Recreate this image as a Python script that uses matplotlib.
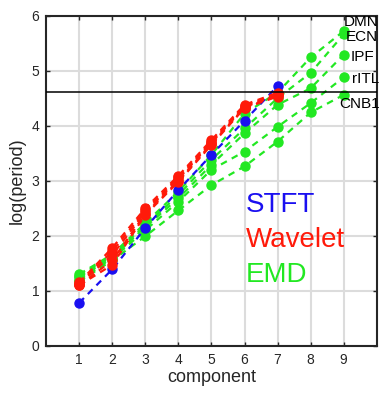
import matplotlib
matplotlib.use("Agg")
import matplotlib.pyplot as plt
import numpy as np

plt.rcParams['font.family'] = ['Liberation Sans', 'DejaVu Sans']

# ---- data ----
x_short = [1, 2, 3, 4, 5, 6, 7]
x_long = [1, 2, 3, 4, 5, 6, 7, 8, 9]

stft = [0.78, 1.39, 2.14, 2.83, 3.47, 4.09, 4.72]

wavelet_1 = [1.15, 1.78, 2.50, 3.09, 3.74, 4.38, 4.60]
wavelet_2 = [1.13, 1.72, 2.46, 3.06, 3.71, 4.36, 4.58]
wavelet_3 = [1.12, 1.65, 2.43, 3.03, 3.69, 4.34, 4.56]
wavelet_4 = [1.10, 1.55, 2.40, 3.00, 3.67, 4.33, 4.55]
wavelet_5 = [1.10, 1.47, 2.38, 2.98, 3.65, 4.32, 4.53]

emd_dmn = [1.30, 1.66, 2.23, 2.80, 3.47, 4.22, 4.60, 5.24, 5.72]
emd_ecn = [1.27, 1.63, 2.19, 2.74, 3.38, 3.95, 4.50, 4.96, 5.66]
emd_ipf = [1.24, 1.60, 2.16, 2.68, 3.29, 3.86, 4.38, 4.68, 5.29]
emd_ritl = [1.20, 1.58, 2.10, 2.62, 3.20, 3.53, 3.98, 4.41, 4.88]
emd_cnb1 = [1.17, 1.55, 1.99, 2.46, 2.92, 3.26, 3.71, 4.24, 4.56]

network_labels = ['DMN', 'ECN', 'IPF', 'rITL', 'CNB1']
label_y = [5.88, 5.61, 5.25, 4.85, 4.39]
ref_level = np.log(100)

blue = '#1a0ff0'
red = '#ff1a0a'
green = '#22e822'

fig = plt.figure(figsize=(3.9, 4.0), dpi=100)
ax = fig.add_axes([0.1185, 0.1358, 0.8474, 0.825])

ax.set_xlim(0, 10)
ax.set_ylim(0, 6)
ax.set_xticks(x_long)
ax.set_yticks([0, 1, 2, 3, 4, 5, 6])
ax.grid(True, color='#dcdcdc', linewidth=1.5, zorder=0)
ax.set_axisbelow(True)

kw = dict(linestyle='--', linewidth=1.6, marker='o', markersize=6.5, dashes=(3, 2.5))

for series in [emd_dmn, emd_ecn, emd_ipf, emd_ritl, emd_cnb1]:
    ax.plot(x_long, series, color=green, zorder=2, **kw)
ax.plot(x_short, stft, color=blue, zorder=3, **kw)
for series in [wavelet_1, wavelet_2, wavelet_3, wavelet_4, wavelet_5]:
    ax.plot(x_short, series, color=red, zorder=4, **kw)

ax.axhline(ref_level, color='black', linewidth=1.1, zorder=5)

label_dx = [0.0, 0.05, 0.2, 0.25, -0.12]
for lab, ly, dx in zip(network_labels, label_y, label_dx):
    ax.text(9.0 + dx, ly, lab, fontsize=11, color='black', va='center', ha='left',
            zorder=6, clip_on=False)

ax.text(6.05, 2.43, 'STFT', fontsize=20, color=blue, va='baseline', ha='left')
ax.text(6.05, 1.80, 'Wavelet', fontsize=20, color=red, va='baseline', ha='left')
ax.text(6.05, 1.16, 'EMD', fontsize=20, color=green, va='baseline', ha='left')

for s in ax.spines.values():
    s.set_linewidth(1.5)
    s.set_color('#262626')
ax.tick_params(direction='in', top=True, right=True, length=3, width=1.0,
               labelsize=10, colors='#262626', pad=5)
ax.set_xlabel('component', fontsize=13, color='#262626', labelpad=2)
ax.set_ylabel('log(period)', fontsize=13, color='#262626', labelpad=4)

fig.savefig('out.png', dpi=100)
